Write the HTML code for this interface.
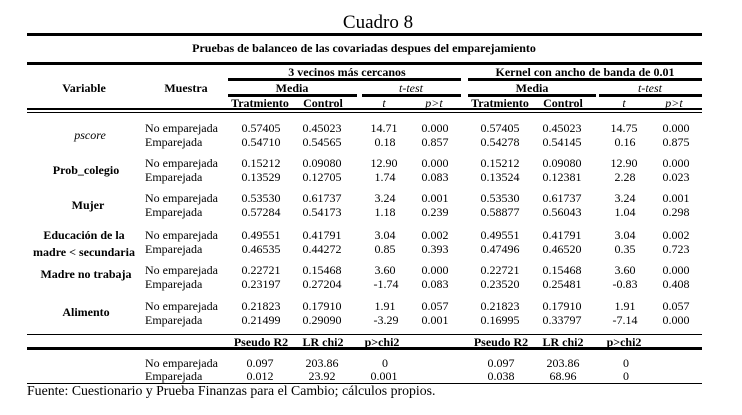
<!DOCTYPE html>
<html>
<head>
<meta charset="utf-8">
<style>
  html, body { margin:0; padding:0; background:#fff; }
  #w { position:relative; width:742px; height:415px; overflow:hidden; background:#fff;
       font-family:"Liberation Serif", "DejaVu Serif", serif; color:#000; font-size:12px; }
  .c { position:absolute; white-space:nowrap; line-height:14px; transform:translate(-50%,-50%); }
  .l { position:absolute; white-space:nowrap; line-height:14px; transform:translateY(-50%); }
  .b { font-weight:bold; }
  .i { font-style:italic; }
  .h { position:absolute; background:#000; }
</style>
</head>
<body>
<div id="w">
  <!-- title -->
  <div class="c" style="left:378px;top:23px;font-size:19px;line-height:22px;">Cuadro 8</div>
  <div class="h" style="left:27px;top:33px;width:675px;height:3px;"></div>
  <div class="c b" style="left:364px;top:48px;">Pruebas de balanceo de las covariadas despues del emparejamiento</div>
  <div class="h" style="left:27px;top:62px;width:675px;height:3px;"></div>

  <!-- header -->
  <div class="c b" style="left:84px;top:88px;">Variable</div>
  <div class="c b" style="left:186px;top:88px;">Muestra</div>

  <div class="c b" style="left:347px;top:72px;">3 vecinos más cercanos</div>
  <div class="c b" style="left:585px;top:72px;">Kernel con ancho de banda de 0.01</div>
  <div class="h" style="left:228px;top:78px;width:233px;height:3px;"></div>
  <div class="h" style="left:468px;top:78px;width:234px;height:3px;"></div>

  <div class="c b" style="left:292px;top:88px;">Media</div>
  <div class="c i" style="left:411px;top:88px;">t-test</div>
  <div class="c b" style="left:532px;top:88px;">Media</div>
  <div class="c i" style="left:650px;top:88px;">t-test</div>
  <div class="h" style="left:228px;top:94px;width:129px;height:3px;"></div>
  <div class="h" style="left:362px;top:94px;width:99px;height:3px;"></div>
  <div class="h" style="left:468px;top:94px;width:128px;height:3px;"></div>
  <div class="h" style="left:599px;top:94px;width:103px;height:3px;"></div>

  <div class="c b" style="left:260px;top:103px;">Tratmiento</div>
  <div class="c b" style="left:323px;top:103px;">Control</div>
  <div class="c i" style="left:384px;top:103px;">t</div>
  <div class="c i" style="left:434px;top:103px;">p&gt;t</div>
  <div class="c b" style="left:500px;top:103px;">Tratmiento</div>
  <div class="c b" style="left:563px;top:103px;">Control</div>
  <div class="c i" style="left:624px;top:103px;">t</div>
  <div class="c i" style="left:674px;top:103px;">p&gt;t</div>

  <div class="h" style="left:27px;top:108px;width:675px;height:2px;"></div>
  <div class="h" style="left:27px;top:112px;width:675px;height:1px;"></div>

  <!-- pscore -->
  <div class="c i" style="left:90px;top:135px;">pscore</div>
  <div class="l" style="left:145px;top:128px;">No emparejada</div>
  <div class="l" style="left:145px;top:142px;">Emparejada</div>
  <div class="c" style="left:261px;top:128px;">0.57405</div><div class="c" style="left:322px;top:128px;">0.45023</div>
  <div class="c" style="left:384px;top:128px;">14.71</div><div class="c" style="left:435px;top:128px;">0.000</div>
  <div class="c" style="left:500px;top:128px;">0.57405</div><div class="c" style="left:562px;top:128px;">0.45023</div>
  <div class="c" style="left:624px;top:128px;">14.75</div><div class="c" style="left:676px;top:128px;">0.000</div>
  <div class="c" style="left:261px;top:142px;">0.54710</div><div class="c" style="left:322px;top:142px;">0.54565</div>
  <div class="c" style="left:385px;top:142px;">0.18</div><div class="c" style="left:435px;top:142px;">0.857</div>
  <div class="c" style="left:500px;top:142px;">0.54278</div><div class="c" style="left:562px;top:142px;">0.54145</div>
  <div class="c" style="left:625px;top:142px;">0.16</div><div class="c" style="left:676px;top:142px;">0.875</div>

  <!-- Prob_colegio -->
  <div class="c b" style="left:86px;top:170px;">Prob_colegio</div>
  <div class="l" style="left:145px;top:163px;">No emparejada</div>
  <div class="l" style="left:145px;top:177px;">Emparejada</div>
  <div class="c" style="left:261px;top:163px;">0.15212</div><div class="c" style="left:322px;top:163px;">0.09080</div>
  <div class="c" style="left:384px;top:163px;">12.90</div><div class="c" style="left:435px;top:163px;">0.000</div>
  <div class="c" style="left:500px;top:163px;">0.15212</div><div class="c" style="left:562px;top:163px;">0.09080</div>
  <div class="c" style="left:624px;top:163px;">12.90</div><div class="c" style="left:676px;top:163px;">0.000</div>
  <div class="c" style="left:261px;top:177px;">0.13529</div><div class="c" style="left:322px;top:177px;">0.12705</div>
  <div class="c" style="left:385px;top:177px;">1.74</div><div class="c" style="left:435px;top:177px;">0.083</div>
  <div class="c" style="left:500px;top:177px;">0.13524</div><div class="c" style="left:562px;top:177px;">0.12381</div>
  <div class="c" style="left:625px;top:177px;">2.28</div><div class="c" style="left:676px;top:177px;">0.023</div>

  <!-- Mujer -->
  <div class="c b" style="left:88px;top:205px;">Mujer</div>
  <div class="l" style="left:145px;top:198px;">No emparejada</div>
  <div class="l" style="left:145px;top:212px;">Emparejada</div>
  <div class="c" style="left:261px;top:198px;">0.53530</div><div class="c" style="left:322px;top:198px;">0.61737</div>
  <div class="c" style="left:385px;top:198px;">3.24</div><div class="c" style="left:435px;top:198px;">0.001</div>
  <div class="c" style="left:500px;top:198px;">0.53530</div><div class="c" style="left:562px;top:198px;">0.61737</div>
  <div class="c" style="left:625px;top:198px;">3.24</div><div class="c" style="left:676px;top:198px;">0.001</div>
  <div class="c" style="left:261px;top:212px;">0.57284</div><div class="c" style="left:322px;top:212px;">0.54173</div>
  <div class="c" style="left:385px;top:212px;">1.18</div><div class="c" style="left:435px;top:212px;">0.239</div>
  <div class="c" style="left:500px;top:212px;">0.58877</div><div class="c" style="left:562px;top:212px;">0.56043</div>
  <div class="c" style="left:625px;top:212px;">1.04</div><div class="c" style="left:676px;top:212px;">0.298</div>

  <!-- Educacion -->
  <div class="c b" style="left:84px;top:235px;">Educación de la</div>
  <div class="c b" style="left:84px;top:252px;">madre &lt; secundaria</div>
  <div class="l" style="left:145px;top:235px;">No emparejada</div>
  <div class="l" style="left:145px;top:249px;">Emparejada</div>
  <div class="c" style="left:261px;top:235px;">0.49551</div><div class="c" style="left:322px;top:235px;">0.41791</div>
  <div class="c" style="left:385px;top:235px;">3.04</div><div class="c" style="left:435px;top:235px;">0.002</div>
  <div class="c" style="left:500px;top:235px;">0.49551</div><div class="c" style="left:562px;top:235px;">0.41791</div>
  <div class="c" style="left:625px;top:235px;">3.04</div><div class="c" style="left:676px;top:235px;">0.002</div>
  <div class="c" style="left:261px;top:249px;">0.46535</div><div class="c" style="left:322px;top:249px;">0.44272</div>
  <div class="c" style="left:385px;top:249px;">0.85</div><div class="c" style="left:435px;top:249px;">0.393</div>
  <div class="c" style="left:500px;top:249px;">0.47496</div><div class="c" style="left:562px;top:249px;">0.46520</div>
  <div class="c" style="left:625px;top:249px;">0.35</div><div class="c" style="left:676px;top:249px;">0.723</div>

  <!-- Madre no trabaja -->
  <div class="c b" style="left:86px;top:274px;">Madre no trabaja</div>
  <div class="l" style="left:145px;top:270px;">No emparejada</div>
  <div class="l" style="left:145px;top:284px;">Emparejada</div>
  <div class="c" style="left:261px;top:270px;">0.22721</div><div class="c" style="left:322px;top:270px;">0.15468</div>
  <div class="c" style="left:385px;top:270px;">3.60</div><div class="c" style="left:435px;top:270px;">0.000</div>
  <div class="c" style="left:500px;top:270px;">0.22721</div><div class="c" style="left:562px;top:270px;">0.15468</div>
  <div class="c" style="left:625px;top:270px;">3.60</div><div class="c" style="left:676px;top:270px;">0.000</div>
  <div class="c" style="left:261px;top:284px;">0.23197</div><div class="c" style="left:322px;top:284px;">0.27204</div>
  <div class="c" style="left:386px;top:284px;">-1.74</div><div class="c" style="left:435px;top:284px;">0.083</div>
  <div class="c" style="left:500px;top:284px;">0.23520</div><div class="c" style="left:562px;top:284px;">0.25481</div>
  <div class="c" style="left:625px;top:284px;">-0.83</div><div class="c" style="left:676px;top:284px;">0.408</div>

  <!-- Alimento -->
  <div class="c b" style="left:86px;top:312px;">Alimento</div>
  <div class="l" style="left:145px;top:306px;">No emparejada</div>
  <div class="l" style="left:145px;top:320px;">Emparejada</div>
  <div class="c" style="left:261px;top:306px;">0.21823</div><div class="c" style="left:322px;top:306px;">0.17910</div>
  <div class="c" style="left:385px;top:306px;">1.91</div><div class="c" style="left:435px;top:306px;">0.057</div>
  <div class="c" style="left:500px;top:306px;">0.21823</div><div class="c" style="left:562px;top:306px;">0.17910</div>
  <div class="c" style="left:625px;top:306px;">1.91</div><div class="c" style="left:676px;top:306px;">0.057</div>
  <div class="c" style="left:261px;top:320px;">0.21499</div><div class="c" style="left:322px;top:320px;">0.29090</div>
  <div class="c" style="left:386px;top:320px;">-3.29</div><div class="c" style="left:435px;top:320px;">0.001</div>
  <div class="c" style="left:500px;top:320px;">0.16995</div><div class="c" style="left:562px;top:320px;">0.33797</div>
  <div class="c" style="left:625px;top:320px;">-7.14</div><div class="c" style="left:676px;top:320px;">0.000</div>

  <div class="h" style="left:27px;top:334px;width:675px;height:1px;"></div>

  <!-- bottom stats -->
  <div class="c b" style="left:261px;top:342px;">Pseudo R2</div>
  <div class="c b" style="left:323px;top:342px;">LR chi2</div>
  <div class="c b" style="left:382px;top:342px;">p&gt;chi2</div>
  <div class="c b" style="left:501px;top:342px;">Pseudo R2</div>
  <div class="c b" style="left:563px;top:342px;">LR chi2</div>
  <div class="c b" style="left:624px;top:342px;">p&gt;chi2</div>

  <div class="h" style="left:27px;top:347px;width:675px;height:3px;"></div>

  <div class="l" style="left:145px;top:363px;">No emparejada</div>
  <div class="l" style="left:145px;top:376px;">Emparejada</div>
  <div class="c" style="left:260px;top:363px;">0.097</div><div class="c" style="left:322px;top:363px;">203.86</div>
  <div class="c" style="left:385px;top:363px;">0</div>
  <div class="c" style="left:501px;top:363px;">0.097</div><div class="c" style="left:563px;top:363px;">203.86</div>
  <div class="c" style="left:626px;top:363px;">0</div>
  <div class="c" style="left:260px;top:376px;">0.012</div><div class="c" style="left:322px;top:376px;">23.92</div>
  <div class="c" style="left:384px;top:376px;">0.001</div>
  <div class="c" style="left:501px;top:376px;">0.038</div><div class="c" style="left:563px;top:376px;">68.96</div>
  <div class="c" style="left:626px;top:376px;">0</div>

  <div class="h" style="left:27px;top:383px;width:675px;height:1px;"></div>

  <div class="l" style="left:27px;top:391px;font-size:13.8px;line-height:16px;">Fuente: Cuestionario y Prueba Finanzas para el Cambio; cálculos propios.</div>
</div>
</body>
</html>
